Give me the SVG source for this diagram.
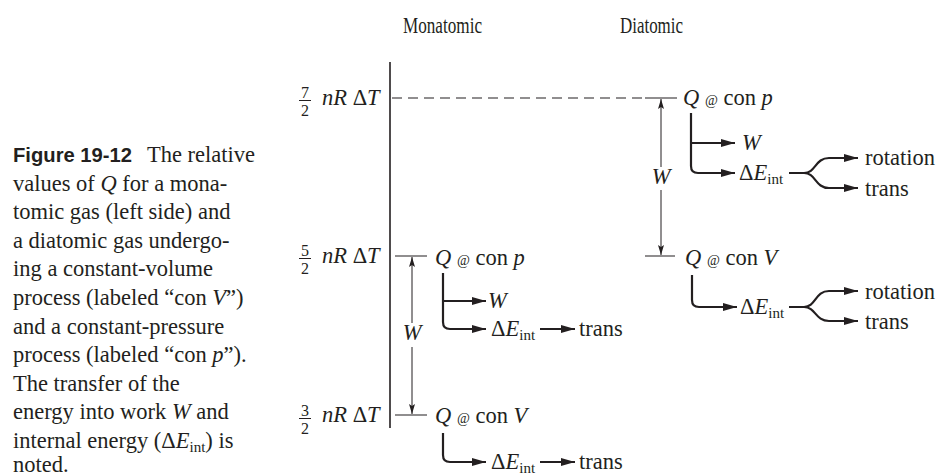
<svg xmlns="http://www.w3.org/2000/svg" width="941" height="476" viewBox="0 0 941 476">
<style>
.t{font-family:"Liberation Serif","Times New Roman",serif;font-size:22.5px;fill:#231f20}
.i{font-style:italic}
.s{font-size:15px}
.at{font-size:14px}
.fr{font-family:"Liberation Serif",serif;font-size:16px;fill:#231f20}
.fb{font-family:"Liberation Sans","Arial",sans-serif;font-weight:bold;font-size:21px;fill:#231f20}
.ln{stroke:#231f20;stroke-width:1.2;fill:none}
.ax{stroke:#231f20;stroke-width:1.6;fill:none}
.br{stroke:#231f20;stroke-width:2.2;fill:none;stroke-linejoin:round}
.dm{stroke:#231f20;stroke-width:1;fill:none}
</style>
<defs>
<marker id="ah" viewBox="0 0 14 8" markerWidth="14" markerHeight="8" refX="14" refY="4" orient="auto" markerUnits="userSpaceOnUse">
<path d="M0,0 L14,4 L0,8 z" fill="#231f20"/>
</marker>
<marker id="dh" viewBox="0 0 10 6" markerWidth="10" markerHeight="6" refX="10" refY="3" orient="auto" markerUnits="userSpaceOnUse">
<path d="M0,0 L10,3 L0,6 L2,3 z" fill="#231f20"/>
</marker>
</defs>

<g id="caption">
<text class="fb" x="13" y="162" textLength="119" lengthAdjust="spacingAndGlyphs">Figure 19-12</text>
<text class="t" x="147" y="162">The relative</text>
<text class="t" x="13" y="190.6">values of <tspan class="i">Q</tspan> for a mona-</text>
<text class="t" x="13" y="219.2">tomic gas (left side) and</text>
<text class="t" x="13" y="247.8">a diatomic gas undergo-</text>
<text class="t" x="13" y="276.4">ing a constant-volume</text>
<text class="t" x="13" y="305">process (labeled “con <tspan class="i">V</tspan>”)</text>
<text class="t" x="13" y="333.6">and a constant-pressure</text>
<text class="t" x="13" y="362.2">process (labeled “con <tspan class="i">p</tspan>”).</text>
<text class="t" x="13" y="390.8">The transfer of the</text>
<text class="t" x="13" y="419.4">energy into work <tspan class="i">W</tspan> and</text>
<text class="t" x="13" y="448">internal energy (Δ<tspan class="i">E</tspan><tspan class="s" dy="4">int</tspan><tspan dy="-4">) is</tspan></text>
<text class="t" x="13" y="472">noted.</text>
</g>

<g id="label-mono"><text class="t" x="403" y="33" textLength="79" lengthAdjust="spacingAndGlyphs">Monatomic</text></g>
<g id="label-di"><text class="t" x="620" y="33" textLength="63" lengthAdjust="spacingAndGlyphs">Diatomic</text></g>

<g id="level-7-2">
<text class="fr" x="305" y="98" text-anchor="middle">7</text>
<line class="dm" x1="299" y1="100.5" x2="311" y2="100.5"/>
<text class="fr" x="305" y="116" text-anchor="middle">2</text>
<text class="t" x="322" y="105"><tspan class="i">nR</tspan> Δ<tspan class="i">T</tspan></text>
</g>
<g id="level-5-2">
<text class="fr" x="305" y="256" text-anchor="middle">5</text>
<line class="dm" x1="299" y1="258.5" x2="311" y2="258.5"/>
<text class="fr" x="305" y="274" text-anchor="middle">2</text>
<text class="t" x="322" y="263"><tspan class="i">nR</tspan> Δ<tspan class="i">T</tspan></text>
</g>
<g id="level-3-2">
<text class="fr" x="305" y="416" text-anchor="middle">3</text>
<line class="dm" x1="299" y1="418.5" x2="311" y2="418.5"/>
<text class="fr" x="305" y="434" text-anchor="middle">2</text>
<text class="t" x="322" y="422"><tspan class="i">nR</tspan> Δ<tspan class="i">T</tspan></text>
</g>

<g id="mono-conp">
<text class="t" x="435" y="265"><tspan class="i">Q</tspan> <tspan class="at">@</tspan> con <tspan class="i">p</tspan></text>
<text class="t i" x="488" y="308">W</text>
<text class="t" x="491" y="336">Δ<tspan class="i">E</tspan><tspan class="s" dy="4">int</tspan></text>
<text class="t" x="579" y="336">trans</text>
</g>
<g id="mono-conV">
<text class="t" x="435" y="423"><tspan class="i">Q</tspan> <tspan class="at">@</tspan> con <tspan class="i">V</tspan></text>
<text class="t" x="491" y="469">Δ<tspan class="i">E</tspan><tspan class="s" dy="4">int</tspan></text>
<text class="t" x="579" y="469">trans</text>
</g>
<g id="di-conp">
<text class="t" x="683" y="105"><tspan class="i">Q</tspan> <tspan class="at">@</tspan> con <tspan class="i">p</tspan></text>
<text class="t i" x="742" y="150">W</text>
<text class="t" x="739" y="180">Δ<tspan class="i">E</tspan><tspan class="s" dy="4">int</tspan></text>
<text class="t" x="865" y="165">rotation</text>
<text class="t" x="865" y="196">trans</text>
</g>
<g id="di-conV">
<text class="t" x="685" y="265"><tspan class="i">Q</tspan> <tspan class="at">@</tspan> con <tspan class="i">V</tspan></text>
<text class="t" x="740" y="314">Δ<tspan class="i">E</tspan><tspan class="s" dy="4">int</tspan></text>
<text class="t" x="865" y="299">rotation</text>
<text class="t" x="865" y="329">trans</text>
</g>
<g id="dim-labels">
<text class="t i" x="412" y="340" text-anchor="middle">W</text>
<text class="t i" x="661" y="184" text-anchor="middle">W</text>
</g>

<g id="connectors">
<path class="ax" d="M390,62 V428"/>
<path class="ln" d="M392,98 H643" stroke-dasharray="10 6"/>
<path class="ln" d="M645,98 H677 M645,256 H675 M395,256 H427 M395,415 H427"/>
<path class="dm" d="M412,323 V257" marker-end="url(#dh)"/>
<path class="dm" d="M412,347 V414" marker-end="url(#dh)"/>
<path class="dm" d="M661,167 V99" marker-end="url(#dh)"/>
<path class="dm" d="M661,190 V255" marker-end="url(#dh)"/>
<path class="br" d="M443,273 V322 Q443,329 450,329 H486" marker-end="url(#ah)"/>
<path class="br" d="M443,301 H486" marker-end="url(#ah)"/>
<path class="br" d="M540,329 H575" marker-end="url(#ah)"/>
<path class="br" d="M443,433 V455 Q443,462 450,462 H486" marker-end="url(#ah)"/>
<path class="br" d="M540,462 H575" marker-end="url(#ah)"/>
<path class="br" d="M691,113 V166 Q691,173 698,173 H735" marker-end="url(#ah)"/>
<path class="br" d="M691,143 H735" marker-end="url(#ah)"/>
<path class="br" d="M789,173 H804 C816,173 815,158 829,158 H858" marker-end="url(#ah)"/>
<path class="br" d="M804,173 C816,173 815,188 829,188 H858" marker-end="url(#ah)"/>
<path class="br" d="M692,275 V300 Q692,307 699,307 H737" marker-end="url(#ah)"/>
<path class="br" d="M789,307 H804 C816,307 815,291 829,291 H858" marker-end="url(#ah)"/>
<path class="br" d="M804,307 C816,307 815,321 829,321 H858" marker-end="url(#ah)"/>
</g>
</svg>
